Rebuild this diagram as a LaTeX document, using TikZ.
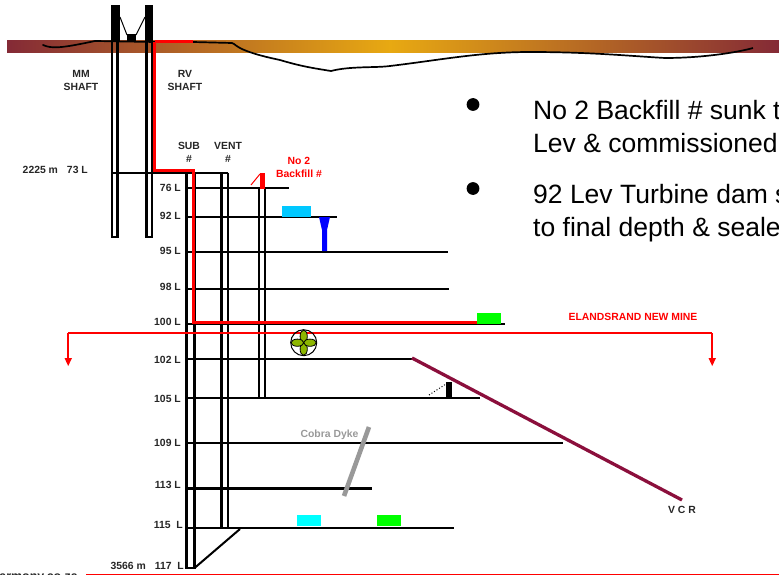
\documentclass[tikz,border=0pt]{standalone}
\usepackage{fontspec}
\setmainfont{Liberation Sans}
\definecolor{bandred}{HTML}{842A36}
\definecolor{bandgold}{HTML}{E8A912}
\definecolor{vcrred}{HTML}{8B0F3C}
\definecolor{skyblue}{HTML}{00C8FF}
\definecolor{damcyan}{HTML}{00FFFF}
\definecolor{fanolive}{HTML}{8DB600}
\begin{document}
\begin{tikzpicture}[x=1pt,y=-1pt,
                       shaft/.style={draw=black,line width=2.7pt},
                       level/.style={draw=black,line width=2pt},
                       refill/.style={draw=red,line width=3pt},
                       small label/.style={font=\bfseries\fontsize{10.4}{13}\selectfont,text=black!85,inner sep=0pt,align=center},
                       level label/.style={small label,anchor=east},
                       body text/.style={font=\fontsize{26.5}{34}\selectfont,inner sep=0pt,anchor=base west}
                      ]
  \useasboundingbox (0,0) rectangle (779,575);
  \clip (0,0) rectangle (779,575);
  % surface band
  \shade[left color=bandred,right color=bandgold] (7,41) rectangle (390,53);
  \shade[left color=bandgold,right color=bandred] (390,41) rectangle (779,53);
  \draw[line width=1.7pt,line cap=round] (43,45) .. controls (52,49) and (62,48) .. (95,41) -- (155,42);
  \draw[line width=1.7pt] (193,42) -- (232,43) .. controls (236,43) and (232,50) .. (280,60)
     .. controls (300,66) and (312,68) .. (331,71) .. controls (350,66) and (375,68) .. (390,66)
     .. controls (440,60) and (480,52) .. (530,52) .. controls (590,52) and (630,56) .. (665,58)
     .. controls (700,58) and (735,53) .. (753,48);
  % headgear
  \fill (111,5) rectangle (120,41);
  \fill (145,5) rectangle (153,41);
  \fill (127,34) rectangle (136,42);
  \draw[line width=1pt] (120,17) -- (127,35) (145,17) -- (136,35);
  % levels
  \node[small label] (mmshaft) at (81,80.5) {MM\\SHAFT};
  \node[small label] (rvshaft) at (185,80.5) {RV\\SHAFT};
  \node[small label] (subshaft) at (189,152) {SUB\\\#};
  \node[small label] (ventshaft) at (228,152) {VENT\\\#};
  \node[small label,text=red] (backfill) at (299,167) {No 2\\Backfill \#};
  \node[level label] (l73) at (88,170) {2225 m\hspace{9pt}73 L};
  \node[level label] (l76) at (181,187.5) {76 L};
  \node[level label] (l92) at (181,216) {92 L};
  \node[level label] (l95) at (181,250.5) {95 L};
  \node[level label] (l98) at (181,286.5) {98 L};
  \node[level label] (l100) at (181,322) {100 L};
  \node[level label] (l102) at (181,360) {102 L};
  \node[level label] (l105) at (181,399) {105 L};
  \node[level label] (l109) at (181,443) {109 L};
  \node[level label] (l113) at (181,485) {113 L};
  \node[level label] (l115) at (183,525) {115\ \ L};
  \node[level label] (l117) at (184,566) {3566 m\hspace{9pt}117\ \ L};
  \coordinate (mma) at (112,41);
  \coordinate (mmb) at (117.5,41);
  \coordinate (rva) at (146.5,41);
  \coordinate (rvb) at (152,41);
  \draw[shaft] (mma) -- (112,237) -- (117.5,237) -- (mmb);
  \draw[shaft] (rva) -- (146.5,237) -- (152,237) -- (rvb);
  \coordinate (sub top) at (186.5,172.5);
  \coordinate (sub foot) at (194.5,568);
  \draw[shaft] (sub top) -- (186.5,568) -- (sub foot) -- (194.5,172.5);
  \draw[shaft] (221.5,172.5) -- (221.5,527);
  \draw[shaft] (228,172.5) -- (228,527);
  \draw[line width=2pt] (sub foot) -- (240,529);
  \draw[line width=2pt] (112,172.5) -- (228,172.5);
  \draw[level] (187,188) -- (289,188);
  \draw[level,line width=1.7pt] (187,217) -- (337,217);
  \draw[level,line width=1.7pt] (187,252) -- (448,252);
  \draw[level,line width=1.7pt] (187,289) -- (449,289);
  \draw[level,line width=1.7pt] (187,324) -- (505,324);
  \draw[level,line width=2.8pt] (187,359) -- (412,359);
  \draw[level] (187,398) -- (480,398);
  \draw[level,line width=2.6pt] (187,443) -- (563,443);
  \draw[level,line width=2.6pt] (187,488.5) -- (372,488.5);
  \draw[level,line width=2.6pt] (187,528) -- (454,528);
  % backfill shaft
  \draw[line width=1.8pt] (259,188) -- (259,398) (265,188) -- (265,398);
  \fill[red] (260,173) rectangle (265,189);
  \draw[red,line width=1pt] (251,185) -- (260,174);
  % storage and dam
  \fill[skyblue] (282,206) rectangle (311,216.5);
  \fill[blue] (319,217) -- (330,217) -- (327,230) -- (327,251) -- (322,251) -- (322,230) -- cycle;
  \fill[green] (477,313) rectangle (501,323.5);
  \fill[damcyan] (297,515) rectangle (321,526);
  \fill[green] (377,515) rectangle (401,526);
  % red service line
  \draw[refill] (154.5,42) -- (193,42);
  \draw[refill] (154.5,42) -- (154.5,170.5) -- (193,170.5) -- (193,322) -- (477,322);
  \coordinate (main west) at (68,333);
  \coordinate (main east) at (712,333);
  \draw[red,line width=2.6pt] (main west) -- (main east);
  \draw[red,line width=1.5pt] (main west) -- (68,359) (main east) -- (712,359);
  \fill[red] (64.5,358) -- (72,358) -- (68.2,366) -- cycle;
  \fill[red] (708.5,358) -- (716,358) -- (712.2,366) -- cycle;
  \node[small label,text=red] (elandsrand) at (633,317) {ELANDSRAND NEW MINE};
  % fan
  \draw[line width=1pt] (303.7,342.7) circle (13);
  \draw[line width=0.8pt] (290.7,342.7) -- (316.7,342.7) (303.7,329.7) -- (303.7,355.7);
  \draw[line width=0.8pt,fill=fanolive] (303.7,336.4) ellipse (3.6 and 6.3);
  \draw[line width=0.8pt,fill=fanolive] (303.7,349) ellipse (3.6 and 6.3);
  \draw[line width=0.8pt,fill=fanolive] (297.4,342.7) ellipse (6.3 and 3.6);
  \draw[line width=0.8pt,fill=fanolive] (310,342.7) ellipse (6.3 and 3.6);
  % reef and dyke
  \draw[vcrred,line width=3.3pt] (412,358) -- (682,500);
  \node[small label] (vcr) at (682,509.5) {V C R};
  \fill (446,382) rectangle (451.5,398);
  \draw[line width=1pt,dotted] (429,395) -- (446,384);
  \draw[black!40,line width=4.6pt] (369,427) -- (344,496);
  \node[small label,text=black!40] (cobra) at (329.5,434.5) {Cobra Dyke};
  % bottom
  \draw[red,line width=1pt] (86,574.5) -- (779,574.5);
  \node[small label,anchor=base east,font=\bfseries\fontsize{12.4}{13}\selectfont] (web) at (78,580) {armony.co.za};
  % bullets
  \fill (473,104.5) circle (6.4);
  \fill (473,188.5) circle (6.4);
  \node[body text] (bullet a) at (533,119.5) {No 2 Backfill \# sunk t};
  \node[body text] (bullet a two) at (533,153) {Lev \& commissioned};
  \node[body text] (bullet b) at (533,203) {92 Lev Turbine dam s};
  \node[body text] (bullet b two) at (533,236) {to final depth \& seale};
\end{tikzpicture}
\end{document}
